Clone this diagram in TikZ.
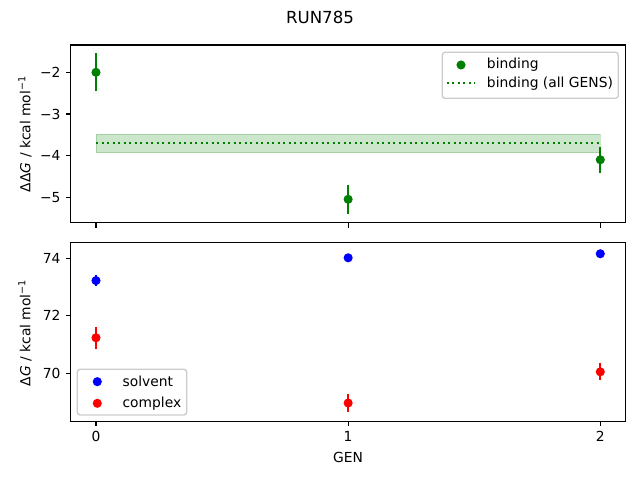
\documentclass[tikz,border=0pt]{standalone}
\usepackage{fontspec}
\setmainfont{DejaVu Sans}
\usepackage{tikz}
\definecolor{mplgreen}{rgb}{0,0.5,0}
\tikzset{every node/.style={font=\fontsize{10}{12}\selectfont}}

\begin{document}
\begin{tikzpicture}[
  x=0.01in, y=0.01in,
  frame/.style={draw, line width=0.8pt},
  tick/.style={line width=0.8pt},
  errbar/.style={line width=1.5pt},
  dot/.style={circle, inner sep=0pt, minimum size=6.6pt},
  lbl/.style={anchor=west, inner sep=0pt},
  legendbox/.style={draw=black!20, fill=white, fill opacity=0.8, rounded corners=2pt, line width=1pt}
% pixel coordinates outside the scopes, data coordinates inside
]
\useasboundingbox (0,0) rectangle (640,480);
\path (320,463) node (title) {\fontsize{12}{14}\selectfont RUN785};

% upper panel: binding
\begin{scope}[shift={(96,490.9)}, x=2.52in, y=0.416in]
\filldraw[mplgreen, opacity=0.2] (0,-3.93) rectangle (2,-3.49);
\draw[mplgreen, line width=1.5pt, dash pattern=on 1.5pt off 2.475pt] (0,-3.7) -- (2,-3.7);
\draw[errbar, mplgreen] (0,-2.46) -- (0,-1.54);
\draw[errbar, mplgreen] (1,-5.40) -- (1,-4.70);
\draw[errbar, mplgreen] (2,-4.41) -- (2,-3.79);
\path (0,-2.0) node[dot, fill=mplgreen] (b0) {};
\path (1,-5.05) node[dot, fill=mplgreen] (b1) {};
\path (2,-4.1) node[dot, fill=mplgreen] (b2) {};
\draw[frame] (-0.1,-5.618) rectangle (2.1,-1.344);
\foreach \v/\l in {-2/2,-3/3,-4/4,-5/5}
  \draw[tick] (-0.1,\v) -- ++(-3.5pt,0) node[left, inner sep=3.5pt] (yt\l) {−\l};
\foreach \g in {0,1,2}
  \draw[tick] (\g,-5.618) -- ++(0,-3.5pt);
\end{scope}
\path (25,346.1) node[rotate=90] (ylabtop) {ΔΔ\textit{G} / kcal mol\textsuperscript{−1}};

% lower panel: solvent and complex
\begin{scope}[shift={(96,-1914.2)}, x=2.52in, y=0.2885in]
\draw[errbar, blue] (0,73.02) -- (0,73.42);
\draw[errbar, blue] (1,73.96) -- (1,74.06);
\draw[errbar, blue] (2,74.11) -- (2,74.19);
\draw[errbar, red] (0,70.85) -- (0,71.63);
\draw[errbar, red] (1,68.66) -- (1,69.30);
\draw[errbar, red] (2,69.77) -- (2,70.35);
\path (0,73.22) node[dot, fill=blue] (s0) {};
\path (1,74.01) node[dot, fill=blue] (s1) {};
\path (2,74.15) node[dot, fill=blue] (s2) {};
\path (0,71.24) node[dot, fill=red] (c0) {};
\path (1,68.98) node[dot, fill=red] (c1) {};
\path (2,70.06) node[dot, fill=red] (c2) {};
\draw[frame] (-0.1,68.35) rectangle (2.1,74.555);
\foreach \v in {70,72,74}
  \draw[tick] (-0.1,\v) -- ++(-3.5pt,0) node[left, inner sep=3.5pt] (yb\v) {\v};
\foreach \g in {0,1,2}
  \draw[tick] (\g,68.35) -- ++(0,-3.5pt) node[below, inner sep=3.5pt] (xt\g) {\g};
\end{scope}
\path (25,147.2) node[rotate=90] (ylabbot) {Δ\textit{G} / kcal mol\textsuperscript{−1}};
\path (348,23) node (xlab) {GEN};

% legends
\draw[legendbox] (442.3,427.7) rectangle (618.3,381.7);
\path (461,415) node[dot, fill=mplgreen] (kb) {};
\path (486.7,415) node[lbl] {binding};
\draw[mplgreen, line width=1.5pt, dash pattern=on 1.5pt off 2.475pt] (446.7,396.7) -- (475,396.7);
\path (486.7,396.7) node[lbl] {binding (all GENS)};

\draw[legendbox] (77.3,110.7) rectangle (186.7,65);
\path (97.3,98.3) node[dot, fill=blue] (ks) {};
\path (122.3,98.3) node[lbl] {solvent};
\path (97.3,76.7) node[dot, fill=red] (kc) {};
\path (122.3,76.7) node[lbl] {complex};
\end{tikzpicture}
\end{document}
